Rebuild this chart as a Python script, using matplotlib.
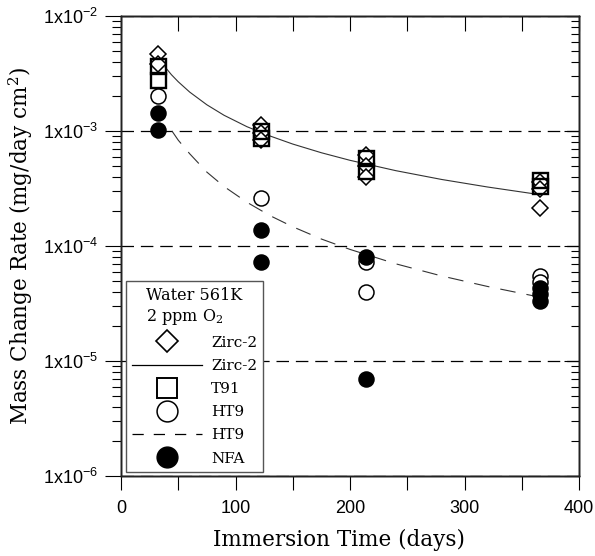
import matplotlib
matplotlib.use("Agg")
import matplotlib.pyplot as plt
from matplotlib.lines import Line2D
from matplotlib.ticker import MultipleLocator, LogLocator, FuncFormatter, NullFormatter

# ---- data ----
zirc_x = [32, 32, 122, 122, 122, 214, 214, 214, 366, 366, 366]
zirc_y = [4.7e-3, 3.8e-3, 1.12e-3, 0.96e-3, 0.84e-3, 6.2e-4, 5.0e-4, 4.0e-4, 3.6e-4, 3.1e-4, 2.15e-4]

t91_x = [32, 32, 122, 122, 214, 214, 366, 366]
t91_y = [3.68e-3, 2.78e-3, 1.0e-3, 0.87e-3, 5.8e-4, 4.5e-4, 3.75e-4, 3.3e-4]

ht9_x = [32, 122, 214, 214, 366, 366]
ht9_y = [2.0e-3, 2.6e-4, 7.3e-5, 4.0e-5, 5.5e-5, 4.9e-5]

nfa_x = [32, 32, 122, 122, 214, 214, 366, 366, 366]
nfa_y = [1.43e-3, 1.02e-3, 1.38e-4, 7.2e-5, 8.1e-5, 7.0e-6, 4.3e-5, 3.8e-5, 3.3e-5]

# fitted curves
zfit_x = [38.5, 44, 50, 60, 75, 90, 110, 130, 150, 175, 200, 240, 280, 320, 360]
zfit_y = [3.6e-3, 3.09e-3, 2.68e-3, 2.18e-3, 1.69e-3, 1.37e-3, 1.09e-3, 9.06e-4,
          7.7e-4, 6.47e-4, 5.56e-4, 4.52e-4, 3.79e-4, 3.26e-4, 2.85e-4]
hfit_x = [44.5, 50, 60, 75, 90, 110, 130, 150, 175, 200, 240, 280, 320, 360]
hfit_y = [1.0e-3, 8.32e-4, 6.34e-4, 4.39e-4, 3.29e-4, 2.40e-4, 1.84e-4, 1.47e-4,
          1.15e-4, 9.34e-5, 7.0e-5, 5.49e-5, 4.45e-5, 3.69e-5]

xlim = (0, 400)
ylim = (1e-6, 1e-2)

legend_title = "Water 561K\n2 ppm O$_\\mathregular{2}$"

SERIF = ["DejaVu Serif"]
SANS = ["Liberation Sans", "DejaVu Sans"]

fig = plt.figure(figsize=(5.95, 5.56), dpi=100)
ax = fig.add_axes([121/595, 1-476/556, 458/595, 460/556])

ax.set_yscale("log")
ax.set_xlim(*xlim)
ax.set_ylim(*ylim)

# fits
ax.plot(zfit_x, zfit_y, color="#333333", lw=0.8, ls="-", zorder=2)
ax.plot(hfit_x, hfit_y, color="#333333", lw=0.8, ls=(0, (14, 10)), zorder=2)

mk = 10.8
ax.plot(zirc_x, zirc_y, ls="none", marker="D", ms=8.2, mfc="white", mec="black", mew=1.1, zorder=3)
ax.plot(t91_x, t91_y, ls="none", marker="s", ms=mk, mfc="none", mec="black", mew=1.7, zorder=4)
ax.plot(ht9_x, ht9_y, ls="none", marker="o", ms=mk, mfc="white", mec="black", mew=1.1, zorder=5)
ax.plot(nfa_x, nfa_y, ls="none", marker="o", ms=mk, mfc="black", mec="black", mew=1.1, zorder=6)

# grid at decades
ax.yaxis.grid(True, which="major", color="black", ls=(0, (10, 5.5)), lw=0.9)
ax.xaxis.grid(False)

# ticks left/bottom outward
ax.xaxis.set_major_locator(MultipleLocator(50))
ax.xaxis.set_major_formatter(FuncFormatter(lambda v, p: f"{int(v)}" if int(round(v)) % 100 == 0 else ""))
ax.yaxis.set_major_locator(LogLocator(base=10, numticks=10))
ax.yaxis.set_minor_locator(LogLocator(base=10, subs=range(2, 10), numticks=20))
ax.yaxis.set_minor_formatter(NullFormatter())

def yfmt(v, p):
    import math
    e = int(round(math.log10(v)))
    return "1x10$^{\\mathregular{%d}}$" % e
ax.yaxis.set_major_formatter(FuncFormatter(yfmt))

ax.tick_params(axis="x", which="major", direction="out", length=10, width=0.8, pad=7,
               top=False, labelsize=13)
ax.tick_params(axis="y", which="major", direction="out", length=11.5, width=0.8, pad=5,
               right=False, labelsize=13)
ax.tick_params(axis="y", which="minor", direction="out", length=6.5, width=0.8, right=False)
for lab in ax.get_xticklabels() + ax.get_yticklabels():
    lab.set_family(SANS)

# right and top ticks inward via twins
axr = ax.twinx()
axr.set_yscale("log")
axr.set_ylim(*ylim)
axr.yaxis.set_major_locator(LogLocator(base=10, numticks=10))
axr.yaxis.set_minor_locator(LogLocator(base=10, subs=range(2, 10), numticks=20))
axr.tick_params(axis="y", which="major", direction="in", length=11, width=0.8, labelright=False)
axr.tick_params(axis="y", which="minor", direction="in", length=5.5, width=0.8, labelright=False)
axt = ax.twiny()
axt.set_xlim(*xlim)
axt.xaxis.set_major_locator(MultipleLocator(50))
axt.tick_params(axis="x", which="major", direction="in", length=11, width=0.8, labeltop=False)
for a in (ax, axr, axt):
    for s in a.spines.values():
        s.set_linewidth(1.0)
        s.set_color("#222222")

ax.set_xlabel("Immersion Time (days)", family=SERIF, fontsize=15.5, labelpad=10)
ax.xaxis.set_label_coords((339 - 121) / 458, -0.115)
ax.set_ylabel("Mass Change Rate (mg/day cm$^\\mathregular{2}$)", family=SERIF, fontsize=15.5, labelpad=6)

handles = [
    Line2D([], [], ls="none", marker="D", ms=11.5, mfc="white", mec="black", mew=1.2),
    Line2D([], [], ls="-", color="black", lw=0.9),
    Line2D([], [], ls="none", marker="s", ms=15, mfc="white", mec="black", mew=1.4),
    Line2D([], [], ls="none", marker="o", ms=15, mfc="white", mec="black", mew=1.1),
    Line2D([], [], ls=(0, (9, 8)), color="black", lw=0.9),
    Line2D([], [], ls="none", marker="o", ms=15, mfc="black", mec="black"),
]
labels = ["Zirc-2", "Zirc-2", "T91", "HT9", "HT9", "NFA"]
leg = axt.legend(handles, labels, loc="upper left",
                 bbox_to_anchor=((125.7 - 121) / 458, (476 - 280.7) / 460),
                 bbox_transform=ax.transAxes, borderaxespad=0,
                 title=legend_title, prop={"family": SERIF, "size": 11},
                 title_fontproperties={"family": SERIF, "size": 11.5},
                 frameon=True, fancybox=False, framealpha=1, edgecolor="#555555",
                 handlelength=4.6, handletextpad=0.6, labelspacing=0.6,
                 borderpad=0.4)
leg.get_frame().set_linewidth(1.0)
leg.set_zorder(10)

fig.savefig("out.png", dpi=100)
